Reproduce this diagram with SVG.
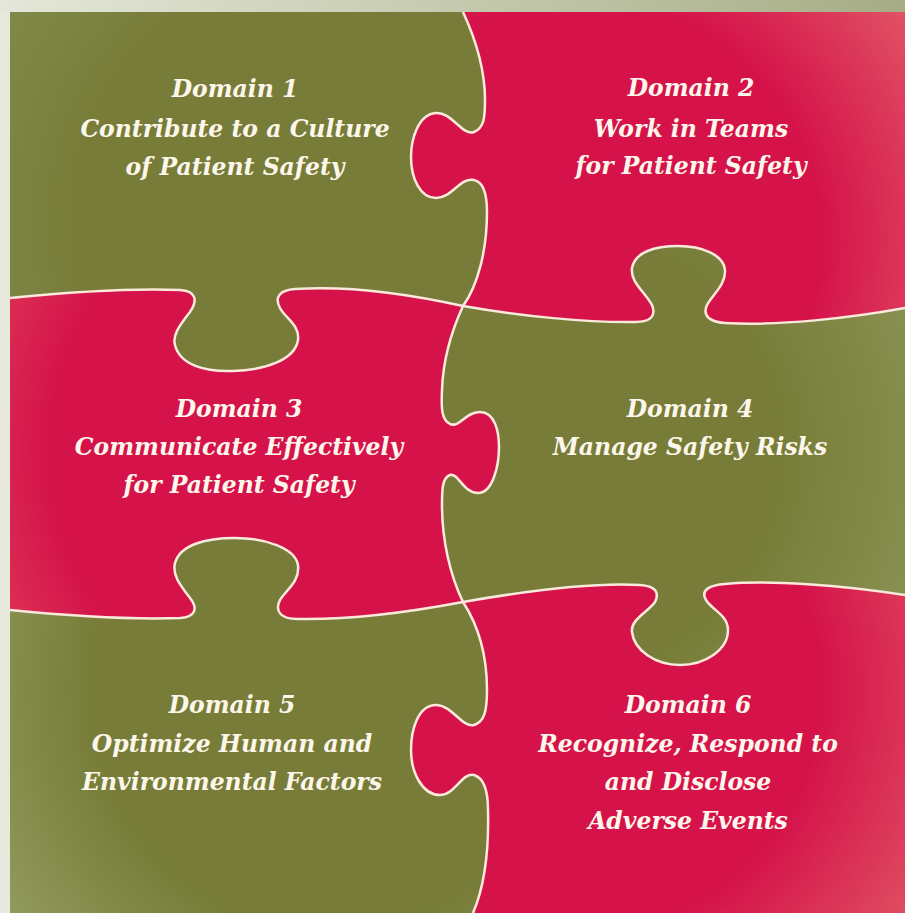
<svg xmlns="http://www.w3.org/2000/svg" width="905" height="913" viewBox="0 0 905 913">
<style>
.t{font-family:"DejaVu Serif","Liberation Serif",serif;font-weight:bold;font-style:italic;font-size:23.5px;fill:#fdf6ea;text-anchor:middle}
.seam{fill:none;stroke:#fbeadb;stroke-width:2.5}
</style>
<defs>
<linearGradient id="bgTop" x1="0" y1="0" x2="1" y2="0"><stop offset="0" stop-color="#e4e7d9"/><stop offset="1" stop-color="#a6ad85"/></linearGradient>
<radialGradient id="g1" gradientUnits="userSpaceOnUse" cx="330" cy="220" r="420"><stop offset="0.6" stop-color="#777d38"/><stop offset="1" stop-color="#858b4c"/></radialGradient>
<radialGradient id="g4" gradientUnits="userSpaceOnUse" cx="560" cy="450" r="400"><stop offset="0.55" stop-color="#777d38"/><stop offset="1" stop-color="#8b9355"/></radialGradient>
<radialGradient id="g5" gradientUnits="userSpaceOnUse" cx="330" cy="690" r="400"><stop offset="0.6" stop-color="#777d38"/><stop offset="1" stop-color="#939c60"/></radialGradient>
<radialGradient id="r2" gradientUnits="userSpaceOnUse" cx="580" cy="240" r="440"><stop offset="0.55" stop-color="#d5134a"/><stop offset="1" stop-color="#e4646c"/></radialGradient>
<radialGradient id="r3" gradientUnits="userSpaceOnUse" cx="330" cy="450" r="400"><stop offset="0.7" stop-color="#d5134a"/><stop offset="1" stop-color="#de3d5a"/></radialGradient>
<radialGradient id="r6" gradientUnits="userSpaceOnUse" cx="580" cy="690" r="440"><stop offset="0.55" stop-color="#d5134a"/><stop offset="1" stop-color="#e25e68"/></radialGradient>
</defs>
<rect x="0" y="0" width="905" height="913" fill="#e6e9dc"/>
<rect x="0" y="0" width="905" height="14" fill="url(#bgTop)"/>

<g id="domain1">
<path fill="url(#g1)" d="M 10,12 L 463,12 C 476,40 485,70 485,100 C 485,118 484,128 474,132 C 462,136 452,112 436,113 C 418,114 411,140 411,157 C 411,178 420,198 436,198 C 452,198 460,177 474,180 C 484,182 487,195 487,212 C 487,250 478,285 463,306 C 400,292 340,286 295,289 C 280,290 274,297 280,308 C 285,318 300,325 298,340 C 295,360 265,370 233,371 C 205,372 180,365 175,345 C 172,335 180,325 190,312 C 198,300 196,291 180,290 C 130,288 60,293 10,298 Z"/>
<text class="t" x="235" y="97">Domain 1</text>
<text class="t" x="235" y="137">Contribute to a Culture</text>
<text class="t" x="235" y="175">of Patient Safety</text>
</g>

<g id="domain2">
<path fill="url(#r2)" d="M 463,12 L 905,12 L 905,308 C 850,318 780,326 725,323 C 710,322 702,316 707,305 C 712,295 726,285 725,270 C 724,255 702,246 678,246 C 655,246 635,252 632,268 C 630,282 645,292 652,305 C 656,315 652,322 635,322 C 590,323 520,316 463,306 C 478,285 487,250 487,212 C 487,195 484,182 474,180 C 460,177 452,198 436,198 C 420,198 411,178 411,157 C 411,140 418,114 436,113 C 452,112 462,136 474,132 C 484,128 485,118 485,100 C 485,70 476,40 463,12 Z"/>
<text class="t" x="691" y="96">Domain 2</text>
<text class="t" x="691" y="137">Work in Teams</text>
<text class="t" x="691" y="174">for Patient Safety</text>
</g>

<g id="domain3">
<path fill="url(#r3)" d="M 10,298 C 60,293 130,288 180,290 C 196,291 198,300 190,312 C 180,325 172,335 175,345 C 180,365 205,372 233,371 C 265,370 295,360 298,340 C 300,325 285,318 280,308 C 274,297 280,290 295,289 C 340,286 400,292 463,306 C 452,330 443,360 442,390 C 441,410 442,420 450,424 C 460,428 465,412 480,412 C 495,412 499,432 499,447 C 499,465 493,493 478,493 C 463,493 458,472 450,475 C 442,478 442,490 442,505 C 442,540 450,575 463,602 C 410,612 350,620 297,619 C 282,619 274,612 280,600 C 286,590 300,582 298,565 C 295,548 265,538 235,538 C 205,538 180,545 175,563 C 172,575 180,585 190,598 C 198,608 196,617 180,618 C 120,620 60,615 10,610 Z"/>
<text class="t" x="239" y="417">Domain 3</text>
<text class="t" x="239" y="455">Communicate Effectively</text>
<text class="t" x="239" y="493">for Patient Safety</text>
</g>

<g id="domain4">
<path fill="url(#g4)" d="M 463,306 C 520,316 590,323 635,322 C 652,322 656,315 652,305 C 645,292 630,282 632,268 C 635,252 655,246 678,246 C 702,246 724,255 725,270 C 726,285 712,295 707,305 C 702,316 710,322 725,323 C 780,326 850,318 905,308 L 905,595 C 840,585 770,580 725,584 C 710,585 700,590 706,600 C 712,610 728,615 728,630 C 728,650 705,665 680,665 C 655,665 634,650 632,632 C 630,620 648,612 655,602 C 660,592 655,586 640,585 C 590,582 520,592 463,602 C 450,575 442,540 442,505 C 442,490 442,478 450,475 C 458,472 463,493 478,493 C 493,493 499,465 499,447 C 499,432 495,412 480,412 C 465,412 460,428 450,424 C 442,420 441,410 442,390 C 443,360 452,330 463,306 Z"/>
<text class="t" x="690" y="417">Domain 4</text>
<text class="t" x="690" y="455">Manage Safety Risks</text>
</g>

<g id="domain5">
<path fill="url(#g5)" d="M 10,610 C 60,615 120,620 180,618 C 196,617 198,608 190,598 C 180,585 172,575 175,563 C 180,545 205,538 235,538 C 265,538 295,548 298,565 C 300,582 286,590 280,600 C 274,612 282,619 297,619 C 350,620 410,612 463,602 C 478,625 487,655 487,690 C 487,712 484,722 474,725 C 462,728 452,705 436,705 C 418,705 411,730 411,750 C 411,772 422,795 440,795 C 455,795 462,772 474,775 C 484,778 488,790 488,810 C 489,850 485,885 473,913 L 10,913 Z"/>
<text class="t" x="232" y="713">Domain 5</text>
<text class="t" x="232" y="752">Optimize Human and</text>
<text class="t" x="232" y="790">Environmental Factors</text>
</g>

<g id="domain6">
<path fill="url(#r6)" d="M 463,602 C 520,592 590,582 640,585 C 655,586 660,592 655,602 C 648,612 630,620 632,632 C 634,650 655,665 680,665 C 705,665 728,650 728,630 C 728,615 712,610 706,600 C 700,590 710,585 725,584 C 770,580 840,585 905,595 L 905,913 L 473,913 C 485,885 489,850 488,810 C 488,790 484,778 474,775 C 462,772 455,795 440,795 C 422,795 411,772 411,750 C 411,730 418,705 436,705 C 452,705 462,728 474,725 C 484,722 487,712 487,690 C 487,655 478,625 463,602 Z"/>
<text class="t" x="688" y="713">Domain 6</text>
<text class="t" x="688" y="752">Recognize, Respond to</text>
<text class="t" x="688" y="790">and Disclose</text>
<text class="t" x="688" y="829">Adverse Events</text>
</g>

<g id="connectors">
<path class="seam" d="M 463,12 C 476,40 485,70 485,100 C 485,118 484,128 474,132 C 462,136 452,112 436,113 C 418,114 411,140 411,157 C 411,178 420,198 436,198 C 452,198 460,177 474,180 C 484,182 487,195 487,212 C 487,250 478,285 463,306"/>
<path class="seam" d="M 10,298 C 60,293 130,288 180,290 C 196,291 198,300 190,312 C 180,325 172,335 175,345 C 180,365 205,372 233,371 C 265,370 295,360 298,340 C 300,325 285,318 280,308 C 274,297 280,290 295,289 C 340,286 400,292 463,306 C 520,316 590,323 635,322 C 652,322 656,315 652,305 C 645,292 630,282 632,268 C 635,252 655,246 678,246 C 702,246 724,255 725,270 C 726,285 712,295 707,305 C 702,316 710,322 725,323 C 780,326 850,318 905,308"/>
<path class="seam" d="M 463,306 C 452,330 443,360 442,390 C 441,410 442,420 450,424 C 460,428 465,412 480,412 C 495,412 499,432 499,447 C 499,465 493,493 478,493 C 463,493 458,472 450,475 C 442,478 442,490 442,505 C 442,540 450,575 463,602"/>
<path class="seam" d="M 10,610 C 60,615 120,620 180,618 C 196,617 198,608 190,598 C 180,585 172,575 175,563 C 180,545 205,538 235,538 C 265,538 295,548 298,565 C 300,582 286,590 280,600 C 274,612 282,619 297,619 C 350,620 410,612 463,602 C 520,592 590,582 640,585 C 655,586 660,592 655,602 C 648,612 630,620 632,632 C 634,650 655,665 680,665 C 705,665 728,650 728,630 C 728,615 712,610 706,600 C 700,590 710,585 725,584 C 770,580 840,585 905,595"/>
<path class="seam" d="M 463,602 C 478,625 487,655 487,690 C 487,712 484,722 474,725 C 462,728 452,705 436,705 C 418,705 411,730 411,750 C 411,772 422,795 440,795 C 455,795 462,772 474,775 C 484,778 488,790 488,810 C 489,850 485,885 473,913"/>
</g>
</svg>
